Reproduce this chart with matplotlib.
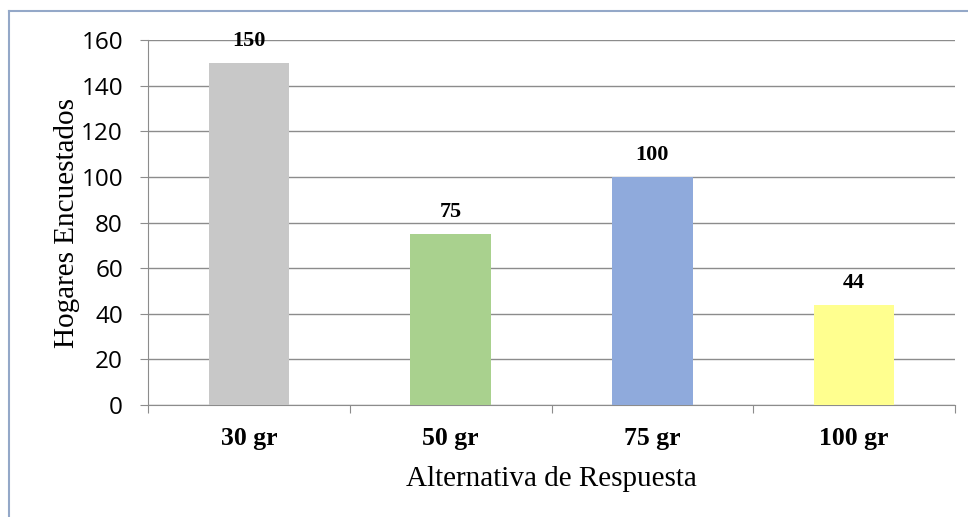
import matplotlib
matplotlib.use("Agg")
import matplotlib.pyplot as plt
from matplotlib.lines import Line2D

categories = ["30 gr", "50 gr", "75 gr", "100 gr"]
values = [150, 75, 100, 44]
colors = ["#C8C8C8", "#A9D18E", "#8FAADC", "#FFFF8F"]
yticks = [0, 20, 40, 60, 80, 100, 120, 140, 160]

fig = plt.figure(figsize=(9.68, 5.17), dpi=100)
ax = fig.add_axes([148/968, 1-405/517, (955-148)/968, (405-40)/517])

x = list(range(len(categories)))
ax.bar(x, values, width=0.4, color=colors, zorder=3)
ax.set_xlim(-0.5, len(categories) - 0.5)
ax.set_ylim(0, 160)
ax.set_yticks(yticks)
ax.yaxis.grid(True, color="#8C8C8C", linewidth=1.0, zorder=0)
ax.set_axisbelow(True)

for s in ["top", "right"]:
    ax.spines[s].set_visible(False)
ax.spines["left"].set_color("#8C8C8C")
ax.spines["bottom"].set_color("#8C8C8C")

ax.set_xticks([-0.5, 0.5, 1.5, 2.5, 3.5])
ax.set_xticklabels([])
ax.set_xticks(x, minor=True)
ax.set_xticklabels(categories, minor=True, fontfamily="Liberation Serif",
                   fontweight="bold", fontsize=18.5)
ax.tick_params(axis="x", which="major", length=6, color="#8C8C8C", direction="out")
ax.tick_params(axis="x", which="minor", length=0, pad=16)
ax.tick_params(axis="y", length=6, color="#8C8C8C", labelsize=17.5, pad=12)
for lab in ax.get_yticklabels():
    lab.set_fontfamily("Open Sans")

for xi, v in zip(x, values):
    ax.text(xi, v + 5.2, str(v), ha="center", va="bottom",
            fontfamily="Liberation Serif", fontweight="bold", fontsize=16)

ax.set_ylabel("Hogares Encuestados", fontfamily="Liberation Serif", fontsize=21)
ax.yaxis.set_label_coords(-0.0845, 0.5)
ax.set_xlabel("Alternativa de Respuesta", fontfamily="Liberation Serif", fontsize=21)
ax.xaxis.set_label_coords(0.5, -0.167)

fig.add_artist(Line2D([9/968, 9/968], [0, 1-11/517], transform=fig.transFigure,
                      color="#94A8C8", linewidth=1.5))
fig.add_artist(Line2D([9/968, 1], [1-11/517, 1-11/517], transform=fig.transFigure,
                      color="#94A8C8", linewidth=1.5))

fig.savefig("out.png", dpi=100)
